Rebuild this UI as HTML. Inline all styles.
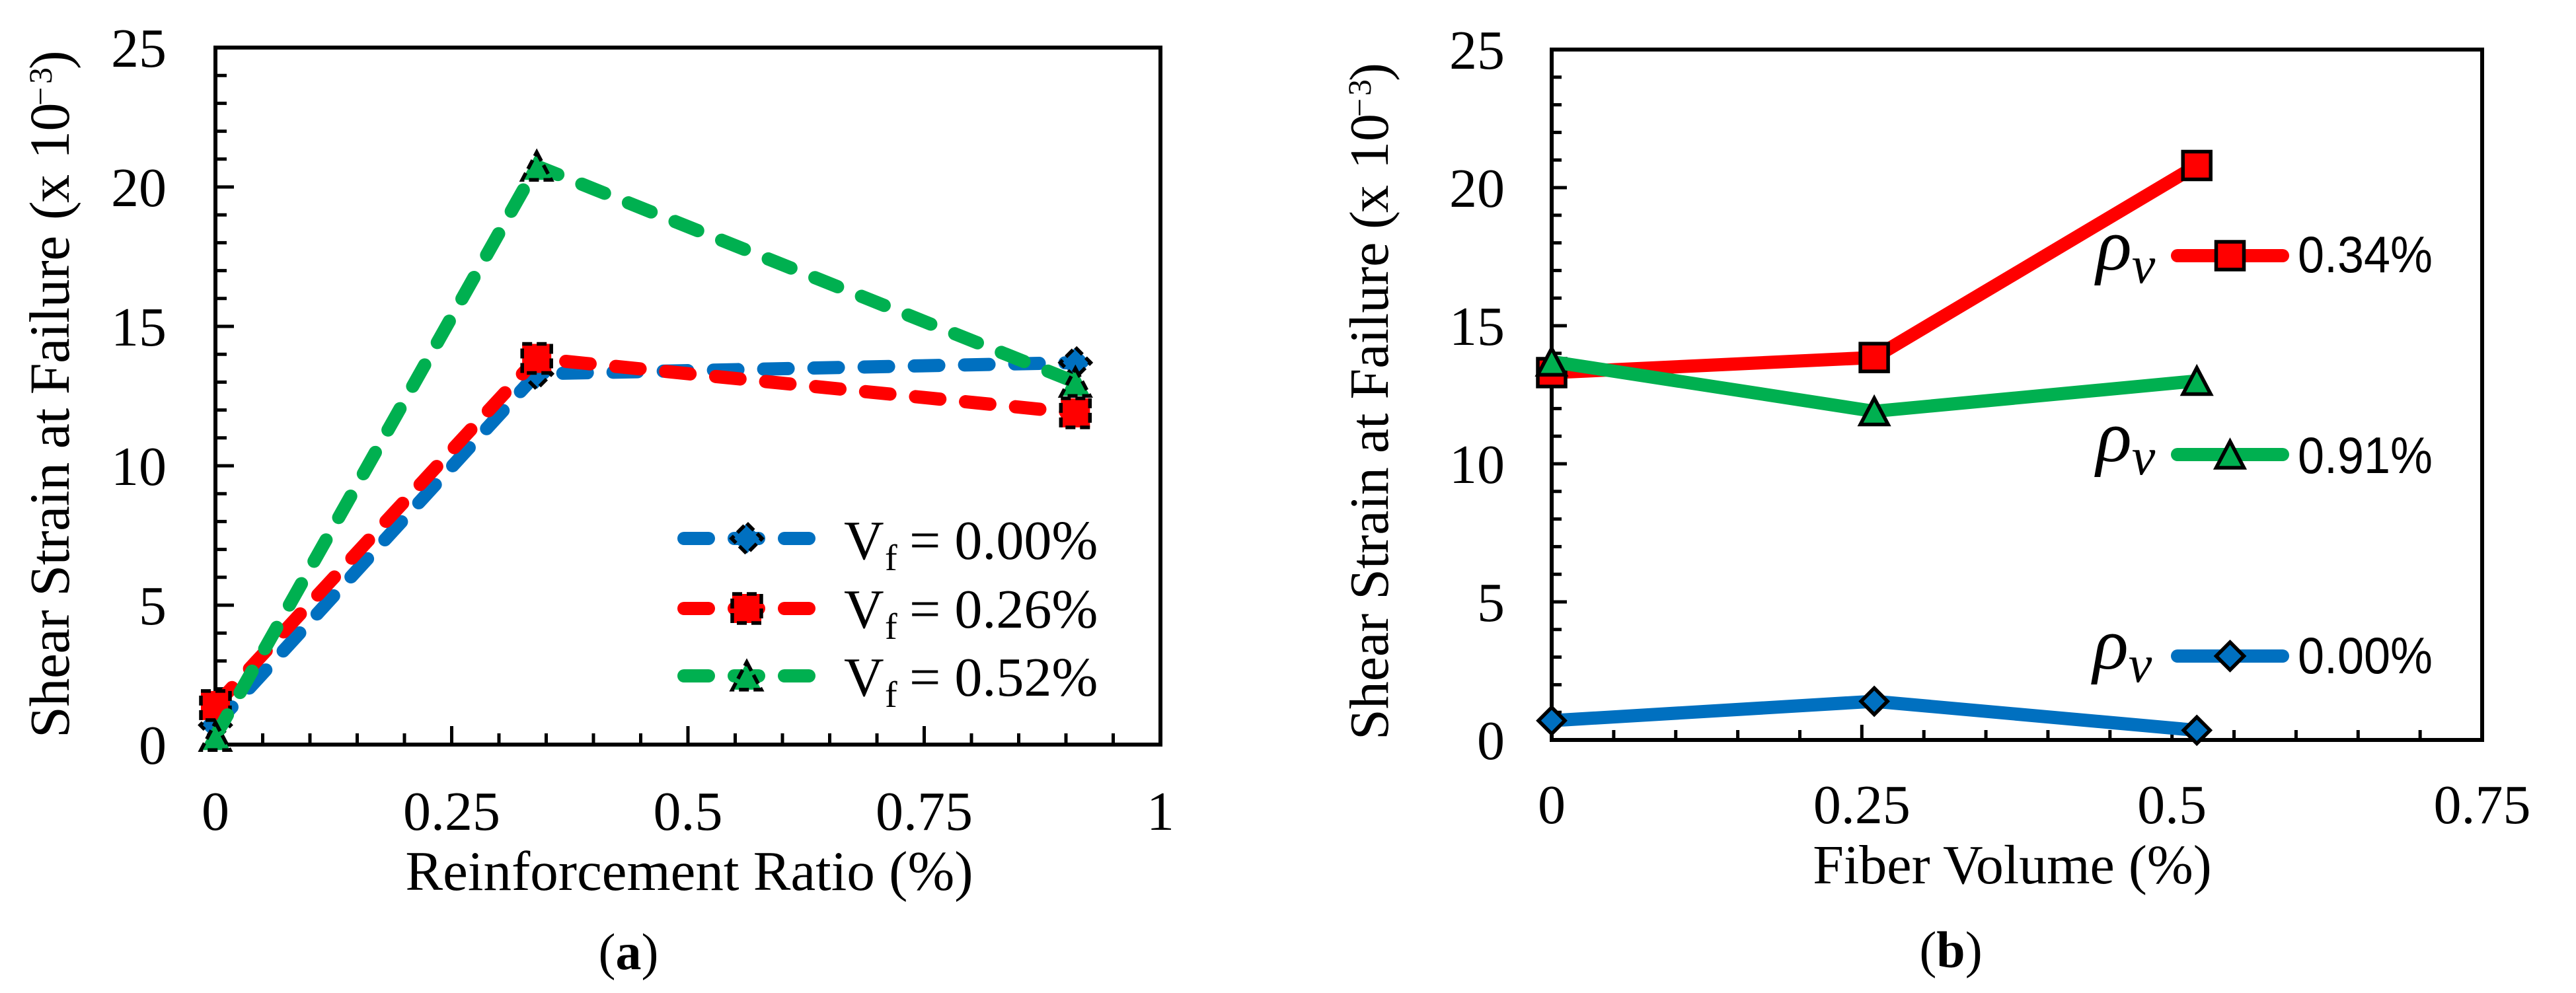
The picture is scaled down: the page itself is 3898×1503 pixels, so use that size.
<!DOCTYPE html>
<html lang="en">
<head>
<meta charset="utf-8">
<title>Shear Strain at Failure charts</title>
<style>
html,body{margin:0;padding:0;background:#fff;width:3898px;height:1503px;overflow:hidden}
svg{display:block}
text{font-family:"Liberation Serif",serif;fill:#000}
</style>
</head>
<body>
<svg id="fig" xmlns="http://www.w3.org/2000/svg" width="3898" height="1503" viewBox="0 0 3898 1503">
  <g id="panelA"></g>
  <g id="panelB"></g>

  <text transform="translate(104,1117) rotate(-90)" font-size="86" letter-spacing="-0.5">Shear Strain at Failure <tspan x="784" y="0">(</tspan><tspan x="810" y="0">x</tspan><tspan x="876" y="0">10</tspan><tspan x="957" y="-26" font-size="50">−</tspan><tspan x="990" y="-26" font-size="50">3</tspan><tspan x="1012" y="0">)</tspan></text>
  <text x="1043" y="1347" font-size="85" text-anchor="middle">Reinforcement Ratio (%)</text>
  <text x="951" y="1467" font-size="78" text-anchor="middle">(<tspan font-weight="bold">a</tspan>)</text>

  <text transform="translate(2100,1120) rotate(-90)" font-size="84" letter-spacing="0">Shear Strain at Failure <tspan x="773" y="0">(</tspan><tspan x="798" y="0">x</tspan><tspan x="864" y="0">10</tspan><tspan x="943" y="-26" font-size="50">−</tspan><tspan x="975" y="-26" font-size="50">3</tspan><tspan x="997" y="0">)</tspan></text>
  <text x="3045" y="1337" font-size="84" text-anchor="middle">Fiber Volume (%)</text>
  <text x="2952" y="1464" font-size="78" text-anchor="middle">(<tspan font-weight="bold">b</tspan>)</text>

  <g id="legendA">
    <text x="1277" y="846" font-size="84">V</text>
    <text x="1339" y="863" font-size="56">f</text>
    <text x="1376" y="846" font-size="84">= 0.00%</text>
    <text x="1277" y="950" font-size="84">V</text>
    <text x="1339" y="967" font-size="56">f</text>
    <text x="1376" y="950" font-size="84">= 0.26%</text>
    <text x="1277" y="1053" font-size="84">V</text>
    <text x="1339" y="1070" font-size="56">f</text>
    <text x="1376" y="1053" font-size="84">= 0.52%</text>
  </g>
  <g id="legendB">
    <text x="3172" y="408" font-size="112" font-style="italic">ρ<tspan font-size="80" dy="20">v</tspan></text>
    <text x="3477" y="412" font-size="78" textLength="204" lengthAdjust="spacingAndGlyphs" style="font-family:'Liberation Sans',sans-serif">0.34%</text>
    <text x="3172" y="698" font-size="112" font-style="italic">ρ<tspan font-size="80" dy="20">v</tspan></text>
    <text x="3477" y="716" font-size="78" textLength="204" lengthAdjust="spacingAndGlyphs" style="font-family:'Liberation Sans',sans-serif">0.91%</text>
    <text x="3167" y="1012" font-size="112" font-style="italic">ρ<tspan font-size="80" dy="20">v</tspan></text>
    <text x="3477" y="1019" font-size="78" textLength="204" lengthAdjust="spacingAndGlyphs" style="font-family:'Liberation Sans',sans-serif">0.00%</text>
  </g>
</svg>
<script>
// ---- data: panel (a)
var reinforcementRatio = [0, 0.34, 0.91];
var vf000Strain = [0.7, 13.3, 13.7];
var vf026Strain = [1.4, 13.85, 11.9];
var vf052Strain = [0.3, 20.75, 13.0];
var aXTickLabels = ['0', '0.25', '0.5', '0.75', '1'];
var aXTickValues = [0, 0.25, 0.5, 0.75, 1];

// ---- data: panel (b)
var fiberVolume = [0, 0.26, 0.52];
var rho034Strain = [13.3, 13.85, 20.8];
var rho091Strain = [13.7, 11.9, 13.0];
var rho000Strain = [0.7, 1.4, 0.35];
var bXTickLabels = ['0', '0.25', '0.5', '0.75'];
var bXTickValues = [0, 0.25, 0.5, 0.75];

// ---- shared y axis
var yTickLabels = ['0', '5', '10', '15', '20', '25'];
var yTickValues = [0, 5, 10, 15, 20, 25];

var NS = 'http://www.w3.org/2000/svg';
var BLUE = '#0070C0', RED = '#FF0000', GREEN = '#00B050';

function mk(parent, tag, attrs) {
  var e = document.createElementNS(NS, tag);
  for (var k in attrs) e.setAttribute(k, attrs[k]);
  parent.appendChild(e);
  return e;
}

function markerPath(kind, cx, cy, r) {
  if (kind === 'diamond') return 'M' + cx + ' ' + (cy - r) + 'L' + (cx + r) + ' ' + cy + 'L' + cx + ' ' + (cy + r) + 'L' + (cx - r) + ' ' + cy + 'Z';
  if (kind === 'square') return 'M' + (cx - r) + ' ' + (cy - r) + 'H' + (cx + r) + 'V' + (cy + r) + 'H' + (cx - r) + 'Z';
  return 'M' + cx + ' ' + (cy - r * 0.95) + 'L' + (cx + r) + ' ' + (cy + r * 0.95) + 'H' + (cx - r) + 'Z';
}

function drawMarker(g, kind, cx, cy, r, color, dashed, name) {
  var m = mk(g, 'path', {
    d: markerPath(kind, cx, cy, r),
    fill: color, stroke: '#000', 'stroke-width': 5.5,
    'stroke-linejoin': 'miter'
  });
  if (dashed) m.setAttribute('stroke-dasharray', '15 7');
  
  
}

function drawAxes(g, px, xMax, xTickVals, xTickLabs, xMinorStep, opts) {
  var X = function (v) { return px.left + (v / xMax) * (px.right - px.left); };
  var Y = function (v) { return px.bottom - (v / 25) * (px.bottom - px.top); };

  var frame = mk(g, 'rect', { x: px.left, y: px.top, width: px.right - px.left, height: px.bottom - px.top, fill: 'none', stroke: '#000', 'stroke-width': 6 });
  
  

  var v;
  for (v = 1; v < 25; v++) {
    var major = v % 5 === 0;
    var yt = mk(g, 'line', { x1: px.left, x2: px.left + (major ? opts.major : opts.minor), y1: Y(v), y2: Y(v), stroke: '#000', 'stroke-width': 5 });
    
    
  }
  var n = Math.round(xMax / xMinorStep);
  for (var i = 1; i < n; i++) {
    var xv = i * xMinorStep;
    var isMajor = i % 5 === 0;
    var xt = mk(g, 'line', { x1: X(xv), x2: X(xv), y1: px.bottom, y2: px.bottom - (isMajor ? opts.major : opts.minor), stroke: '#000', 'stroke-width': 5 });
    
    
  }
  yTickValues.forEach(function (val, idx) {
    var t = mk(g, 'text', { x: opts.yLabelRight, y: Y(val) + 29, 'font-size': 84, 'text-anchor': 'end' });
    t.textContent = yTickLabels[idx];
    
    
  });
  xTickVals.forEach(function (val, idx) {
    var t = mk(g, 'text', { x: X(val), y: opts.xLabelY, 'font-size': 84, 'text-anchor': 'middle' });
    t.textContent = xTickLabs[idx];
    
    
  });
  return { X: X, Y: Y };
}

function drawSeries(g, sc, xs, ys, color, kind, r, dashed, name) {
  var pts = xs.map(function (x, i) { return sc.X(x) + ',' + sc.Y(ys[i]); }).join(' ');
  var line = mk(g, 'polyline', { points: pts, fill: 'none', stroke: color, 'stroke-width': 20, 'stroke-linecap': 'round', 'stroke-linejoin': dashed ? 'round' : 'miter' });
  if (dashed) line.setAttribute('stroke-dasharray', '37 39');
  
  
  xs.forEach(function (x, i) {
    drawMarker(g, kind, sc.X(x), sc.Y(ys[i]), r, color, dashed, name + '-marker');
  });
}

function legendLine(g, x1, x2, y, color, dashed, kind, r, name) {
  var l = mk(g, 'line', { x1: x1, x2: x2, y1: y, y2: y, stroke: color, 'stroke-width': 20, 'stroke-linecap': 'round' });
  if (dashed) l.setAttribute('stroke-dasharray', '37 39');
  
  
  drawMarker(g, kind, (x1 + x2) / 2, y, r, color, dashed, name + '-marker');
}

// ---- panel (a)
var gA = document.getElementById('panelA');
var scA = drawAxes(gA, { left: 326, right: 1756, top: 72, bottom: 1127 }, 1, aXTickValues, aXTickLabels, 0.05,
  { minor: 17, major: 28, yLabelRight: 252, xLabelY: 1256 });
drawSeries(gA, scA, reinforcementRatio, vf000Strain, BLUE, 'diamond', 23, true, 'series-vf-000');
drawSeries(gA, scA, reinforcementRatio, vf026Strain, RED, 'square', 22, true, 'series-vf-026');
drawSeries(gA, scA, reinforcementRatio, vf052Strain, GREEN, 'triangle', 22, true, 'series-vf-052');

var lgA = document.getElementById('legendA');
legendLine(lgA, 1035, 1225, 815, BLUE, true, 'diamond', 23, 'legend-vf-000');
legendLine(lgA, 1035, 1225, 921, RED, true, 'square', 22, 'legend-vf-026');
legendLine(lgA, 1035, 1225, 1023, GREEN, true, 'triangle', 22, 'legend-vf-052');

// ---- panel (b)
var gB = document.getElementById('panelB');
var scB = drawAxes(gB, { left: 2348, right: 3756, top: 75, bottom: 1120 }, 0.75, bXTickValues, bXTickLabels, 0.05,
  { minor: 15, major: 23, yLabelRight: 2277, xLabelY: 1246 });
drawSeries(gB, scB, fiberVolume, rho034Strain, RED, 'square', 21, false, 'series-rho-034');
drawSeries(gB, scB, fiberVolume, rho091Strain, GREEN, 'triangle', 21, false, 'series-rho-091');
drawSeries(gB, scB, fiberVolume, rho000Strain, BLUE, 'diamond', 20, false, 'series-rho-000');

var lgB = document.getElementById('legendB');
legendLine(lgB, 3295, 3454, 387, RED, false, 'square', 21, 'legend-rho-034');
legendLine(lgB, 3295, 3454, 688, GREEN, false, 'triangle', 21, 'legend-rho-091');
legendLine(lgB, 3295, 3454, 993, BLUE, false, 'diamond', 21, 'legend-rho-000');
</script>
</body>
</html>
